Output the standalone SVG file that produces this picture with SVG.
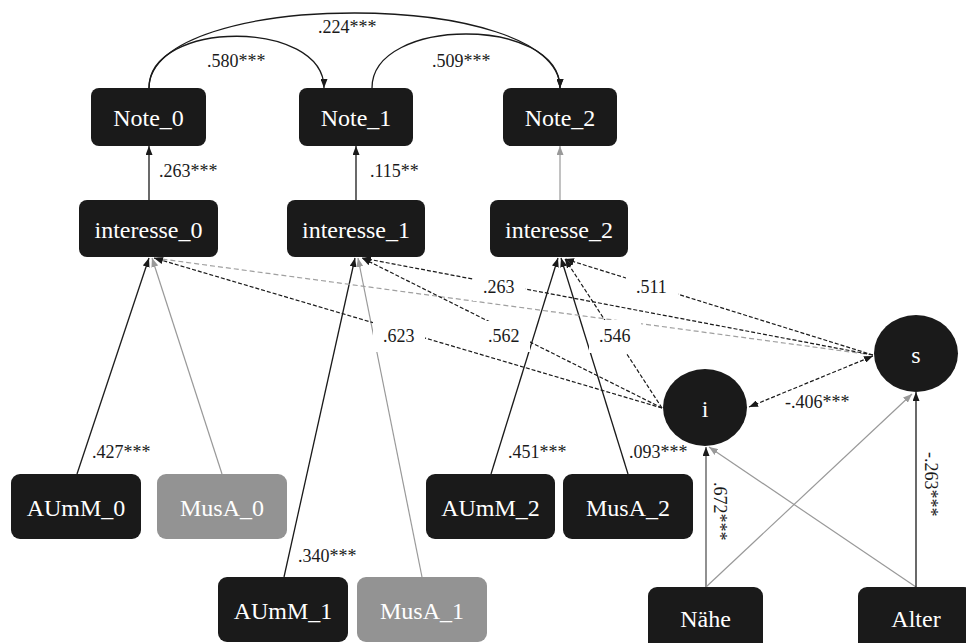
<svg xmlns="http://www.w3.org/2000/svg" width="966" height="643" viewBox="0 0 966 643">
  <style>
    text { font-family: "Liberation Serif", "Times New Roman", serif; }
    .box { fill: #1a1a1a; }
    .box-gray { fill: #939393; }
    .lbl { font-size: 24px; fill: #ffffff; text-anchor: middle; }
    .coef { font-size: 18px; fill: #1a1a1a; }
    .solid { fill: none; stroke: #1a1a1a; stroke-width: 1.3; }
    .solid-gray { fill: none; stroke: #999999; stroke-width: 1.2; }
    .solid-mid { fill: none; stroke: #555555; stroke-width: 1.3; }
    .dash { fill: none; stroke: #1a1a1a; stroke-width: 1.2; stroke-dasharray: 4 2; }
    .dash-gray { fill: none; stroke: #a0a0a0; stroke-width: 1.2; stroke-dasharray: 5 3; }
    .lblbg { fill: #ffffff; }
  </style>
  <defs>
    <marker id="arr" viewBox="0 0 9 7" refX="9" refY="3.5" markerWidth="9" markerHeight="7" markerUnits="userSpaceOnUse" orient="auto-start-reverse">
      <path d="M0,0 L9,3.5 L0,7 z" fill="#1a1a1a"/>
    </marker>
    <marker id="arrGray" viewBox="0 0 9 7" refX="9" refY="3.5" markerWidth="9" markerHeight="7" markerUnits="userSpaceOnUse" orient="auto">
      <path d="M0,0 L9,3.5 L0,7 z" fill="#999999"/>
    </marker>
  </defs>

  <!-- connectors -->
  <g id="connectors">
    <!-- autoregressive paths between grades -->
    <path class="solid" d="M149,88 C149,-12 560,-12 560,88" marker-end="url(#arr)"/>
    <path class="solid" d="M149,88 C149,19 324,19 324,88" marker-end="url(#arr)"/>
    <path class="solid" d="M372,88 C372,16 560,16 560,88" marker-end="url(#arr)"/>

    <!-- interest to grade -->
    <path class="solid" d="M149,200 L149,146" marker-end="url(#arr)"/>
    <path class="solid" d="M356,200 L356,146" marker-end="url(#arr)"/>
    <path class="solid-gray" d="M560,200 L560,146" marker-end="url(#arrGray)"/>

    <!-- predictors to interest -->
    <path class="solid" d="M77,474 L149,258" marker-end="url(#arr)"/>
    <path class="solid-gray" d="M222,474 L152,258" marker-end="url(#arrGray)"/>
    <path class="solid" d="M284,577 L355,258" marker-end="url(#arr)"/>
    <path class="solid-gray" d="M422,577 L358,258" marker-end="url(#arrGray)"/>
    <path class="solid" d="M491,474 L558,258" marker-end="url(#arr)"/>
    <path class="solid" d="M628,474 L561,258" marker-end="url(#arr)"/>

    <!-- growth factor loadings -->
    <path class="dash-gray" d="M873,355 L154,258" marker-end="url(#arrGray)"/>
    <path class="dash" d="M662,408 L154,258" marker-end="url(#arr)"/>
    <path class="dash" d="M662,408 L362,258" marker-end="url(#arr)"/>
    <path class="dash" d="M662,408 L565,259" marker-end="url(#arr)"/>
    <path class="dash" d="M873,355 L362,258" marker-end="url(#arr)"/>
    <path class="dash" d="M873,355 L565,259" marker-end="url(#arr)"/>
    <path class="dash" d="M749,407 L873,356" marker-start="url(#arr)" marker-end="url(#arr)"/>

    <!-- covariates to growth factors -->
    <path class="solid-mid" d="M706,587 L706,447" marker-end="url(#arr)"/>
    <path class="solid-gray" d="M706,587 L912,394" marker-end="url(#arrGray)"/>
    <path class="solid-gray" d="M916,587 L709,447" marker-end="url(#arrGray)"/>
    <path class="solid" d="M916,587 L916,392" marker-end="url(#arr)"/>

    <!-- label backgrounds on loadings -->
    <rect class="lblbg" x="473" y="273" width="52" height="28"/>
    <rect class="lblbg" x="626" y="273" width="52" height="28"/>
    <rect class="lblbg" x="373" y="321" width="52" height="31"/>
    <rect class="lblbg" x="478" y="321" width="52" height="31"/>
    <rect class="lblbg" x="589" y="320" width="52" height="33"/>

    <!-- coefficients -->
    <text class="coef" x="318" y="33">.224***</text>
    <text class="coef" x="207" y="67">.580***</text>
    <text class="coef" x="432" y="67">.509***</text>
    <text class="coef" x="159" y="177">.263***</text>
    <text class="coef" x="370" y="177">.115**</text>
    <text class="coef" x="483" y="293">.263</text>
    <text class="coef" x="636" y="293">.511</text>
    <text class="coef" x="383" y="342">.623</text>
    <text class="coef" x="488" y="342">.562</text>
    <text class="coef" x="599" y="342">.546</text>
    <text class="coef" x="785" y="408">-.406***</text>
    <text class="coef" x="92" y="458">.427***</text>
    <text class="coef" x="508" y="458">.451***</text>
    <text class="coef" x="629" y="458">.093***</text>
    <text class="coef" x="298" y="562">.340***</text>
    <text class="coef" transform="translate(714,482) rotate(90)">.672***</text>
    <text class="coef" transform="translate(925,452) rotate(90)">-.263***</text>
  </g>

  <!-- grades -->
  <g id="note0"><rect class="box" x="91" y="88" width="115" height="58" rx="8"/><text class="lbl" x="148.5" y="126">Note_0</text></g>
  <g id="note1"><rect class="box" x="299" y="88" width="114" height="58" rx="8"/><text class="lbl" x="356" y="126">Note_1</text></g>
  <g id="note2"><rect class="box" x="503" y="88" width="114" height="58" rx="8"/><text class="lbl" x="560" y="126">Note_2</text></g>

  <!-- interest -->
  <g id="interesse0"><rect class="box" x="79" y="200" width="139" height="57" rx="8"/><text class="lbl" x="148.5" y="238">interesse_0</text></g>
  <g id="interesse1"><rect class="box" x="287" y="200" width="138" height="57" rx="8"/><text class="lbl" x="356" y="238">interesse_1</text></g>
  <g id="interesse2"><rect class="box" x="490" y="200" width="138" height="57" rx="8"/><text class="lbl" x="559" y="238">interesse_2</text></g>

  <!-- growth factors -->
  <g id="i"><ellipse class="box" cx="705" cy="407.5" rx="42" ry="38.5"/><text class="lbl" x="705" y="417">i</text></g>
  <g id="s"><ellipse class="box" cx="916" cy="353.5" rx="42" ry="38.5"/><text class="lbl" x="916" y="363">s</text></g>

  <!-- predictors -->
  <g id="aumm0"><rect class="box" x="11" y="474" width="130" height="65" rx="9"/><text class="lbl" x="76" y="516">AUmM_0</text></g>
  <g id="musa0"><rect class="box-gray" x="157" y="474" width="130" height="65" rx="9"/><text class="lbl" x="222" y="516">MusA_0</text></g>
  <g id="aumm1"><rect class="box" x="218" y="577" width="130" height="65" rx="9"/><text class="lbl" x="283" y="619">AUmM_1</text></g>
  <g id="musa1"><rect class="box-gray" x="357" y="577" width="130" height="65" rx="9"/><text class="lbl" x="422" y="619">MusA_1</text></g>
  <g id="aumm2"><rect class="box" x="426" y="474" width="129" height="65" rx="9"/><text class="lbl" x="490.5" y="516">AUmM_2</text></g>
  <g id="musa2"><rect class="box" x="563" y="474" width="130" height="65" rx="9"/><text class="lbl" x="628" y="516">MusA_2</text></g>

  <!-- covariates -->
  <g id="naehe"><rect class="box" x="648" y="587" width="115" height="65" rx="9"/><text class="lbl" x="705.5" y="627">Nähe</text></g>
  <g id="alter"><rect class="box" x="858" y="587" width="115" height="65" rx="9"/><text class="lbl" x="916" y="627">Alter</text></g>
</svg>
